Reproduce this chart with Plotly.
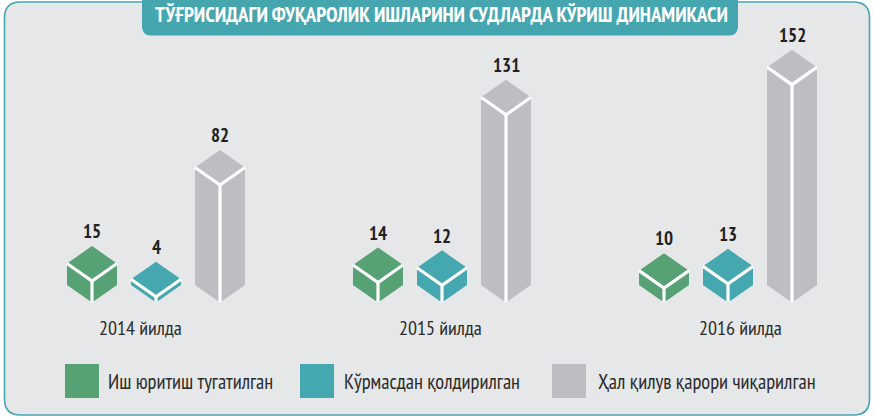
import plotly.graph_objects as go

# ---------------- data ----------------
years = ["2014 йилда", "2015 йилда", "2016 йилда"]
series_names = ["Иш юритиш тугатилган", "Кўрмасдан қолдирилган", "Ҳал қилув қарори чиқарилган"]
terminated = [15, 14, 10]
not_considered = [4, 12, 13]
decided = [82, 131, 152]
title_text = "ТЎҒРИСИДАГИ ФУҚАРОЛИК ИШЛАРИНИ СУДЛАРДА КЎРИШ ДИНАМИКАСИ"

series_values = [terminated, not_considered, decided]
colors = ["#56a275", "#45a7b0", "#bdbec2"]

# ---------------- geometry / styling ----------------
W, H = 874, 418
BASE_PY = 302.5          # pixel row of the bars' front-bottom corner
PX_PER_UNIT = 1.433      # vertical pixels per data unit
HALF_W = 25              # half width of each isometric bar (px)
DY = 17.5 / PX_PER_UNIT  # half height of the top diamond in data units
GROUP_X0, GROUP_STEP, BAR_STEP = 92, 286, 64
FONT = "Liberation Sans Narrow, PT Sans Narrow, Roboto, sans-serif"
TEAL = "#45a6b0"
BG = "#e6e7e9"


def vy(py):
    """pixel row -> data value on the y axis"""
    return (BASE_PY - py) / PX_PER_UNIT


fig = go.Figure()

white_x, white_y = [], []
annotations = []
for s, vals in enumerate(series_values):
    for g, v in enumerate(vals):
        cx = GROUP_X0 + g * GROUP_STEP + s * BAR_STEP
        xs = [cx - HALF_W, cx - HALF_W, cx, cx + HALF_W, cx + HALF_W, cx, cx - HALF_W]
        ys = [DY, v + DY, v + 2 * DY, v + DY, DY, 0, DY]
        fig.add_trace(go.Scatter(
            x=xs, y=ys, mode="lines", fill="toself", fillcolor=colors[s],
            line=dict(width=0, color=colors[s]), hoverinfo="skip", showlegend=False))
        white_x += [cx - HALF_W, cx, cx + HALF_W, None, cx, cx, None]
        white_y += [v + DY, v, v + DY, None, v, 0, None]
        annotations.append(dict(
            x=cx, y=v + 2 * DY + 10.3, xref="x", yref="y", text=str(v), showarrow=False,
            xanchor="center", yanchor="middle",
            font=dict(family=FONT, size=19, color="#231f20", weight="bold")))

fig.add_trace(go.Scatter(
    x=white_x, y=white_y, mode="lines", line=dict(color="white", width=3.2),
    hoverinfo="skip", showlegend=False))

# year labels
for g, lab in enumerate(years):
    annotations.append(dict(
        x=140 + 300 * g, y=vy(328), xref="x", yref="y", text=lab, showarrow=False,
        xanchor="center", yanchor="middle",
        font=dict(family=FONT, size=20, color="#2b2b2b")))

# legend (drawn manually)
shapes = []
leg_sq_x = [65, 300, 552]
leg_txt_x = [106, 342, 596]
for s, name in enumerate(series_names):
    shapes.append(dict(type="rect", xref="x", yref="y",
                       x0=leg_sq_x[s], x1=leg_sq_x[s] + 34, y0=vy(398), y1=vy(364),
                       fillcolor=colors[s], line=dict(width=0), layer="above"))
    annotations.append(dict(
        x=leg_txt_x[s], y=vy(381), xref="x", yref="y", text=name, showarrow=False,
        xanchor="left", yanchor="middle",
        font=dict(family=FONT, size=20.5, color="#2b2b2b")))


def rounded_rect_path(x0, x1, py0, py1, r, top_round=True):
    # coordinates: x in px (x axis), y via vy()
    p = []
    if top_round:
        p.append(f"M {x0} {vy(py0 + r)}")
        p.append(f"Q {x0} {vy(py0)} {x0 + r} {vy(py0)}")
        p.append(f"L {x1 - r} {vy(py0)}")
        p.append(f"Q {x1} {vy(py0)} {x1} {vy(py0 + r)}")
    else:
        p.append(f"M {x0} {vy(py0)}")
        p.append(f"L {x1} {vy(py0)}")
    p.append(f"L {x1} {vy(py1 - r)}")
    p.append(f"Q {x1} {vy(py1)} {x1 - r} {vy(py1)}")
    p.append(f"L {x0 + r} {vy(py1)}")
    p.append(f"Q {x0} {vy(py1)} {x0} {vy(py1 - r)}")
    p.append("Z")
    return " ".join(p)


# panel
shapes.insert(0, dict(type="path", xref="x", yref="y",
                      path=rounded_rect_path(4.5, 869.5, 2, 415, 16),
                      fillcolor=BG, line=dict(color=TEAL, width=1.6), layer="below"))
# title box
shapes.append(dict(type="path", xref="x", yref="y",
                   path=rounded_rect_path(142, 738, -4, 35.5, 9, top_round=False),
                   fillcolor=TEAL, line=dict(width=0), layer="above"))
annotations.append(dict(
    x=441, y=vy(14), xref="x", yref="y", text=title_text, showarrow=False,
    xanchor="center", yanchor="middle",
    font=dict(family=FONT, size=20.8, color="white", weight="bold")))

fig.update_layout(
    width=W, height=H, margin=dict(l=0, r=0, t=0, b=0),
    paper_bgcolor="white", plot_bgcolor="white",
    xaxis=dict(range=[0, W], visible=False, fixedrange=True),
    yaxis=dict(range=[vy(H), vy(0)], visible=False, fixedrange=True),
    shapes=shapes, annotations=annotations, showlegend=False,
)

fig.write_html("out.html", config={"displayModeBar": False},
               post_script="document.body.style.margin='0';document.body.style.overflow='hidden';")
